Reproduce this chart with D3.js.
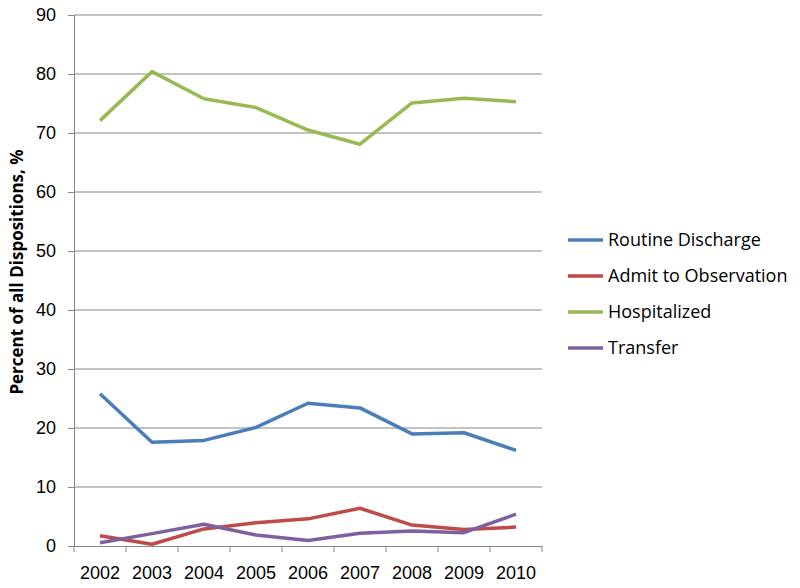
<!DOCTYPE html>
<html>
<head>
<meta charset="utf-8">
<script src="https://cdn.jsdelivr.net/npm/d3@7"></script>
<style>
  body { margin: 0; background: #fff; }
  svg { font-family: "Open Sans", Lato, sans-serif; }
</style>
</head>
<body>
<div id="chart"></div>
<script>
// Data
var years = ["2002", "2003", "2004", "2005", "2006", "2007", "2008", "2009", "2010"];
var routineDischarge = [25.8, 17.6, 17.9, 20.1, 24.2, 23.4, 19.0, 19.2, 16.2];
var admitObservation = [1.75, 0.3, 2.9, 3.95, 4.6, 6.4, 3.55, 2.8, 3.2];
var hospitalized = [72.1, 80.4, 75.8, 74.3, 70.5, 68.1, 75.1, 75.9, 75.3];
var transfer = [0.55, 2.1, 3.7, 1.85, 0.95, 2.15, 2.55, 2.25, 5.4];
var yTicks = [0, 10, 20, 30, 40, 50, 60, 70, 80, 90];

var series = [
  { name: "Routine Discharge", values: routineDischarge, color: "#4a7ebb" },
  { name: "Admit to Observation", values: admitObservation, color: "#be4b48" },
  { name: "Hospitalized", values: hospitalized, color: "#98b954" },
  { name: "Transfer", values: transfer, color: "#7d60a0" }
];

// margins
var margin = { top: 15, right: 258, bottom: 42, left: 74 };
var width = 800 - margin.left - margin.right;
var height = 588 - margin.top - margin.bottom;

var x = d3.scaleBand().domain(years).range([0, width]);
var y = d3.scaleLinear().domain([0, 90]).range([height, 0]);

var svg = d3.select("#chart").append("svg")
  .attr("width", 800)
  .attr("height", 588);
var g = svg.append("g")
  .attr("transform", "translate(" + margin.left + "," + margin.top + ")");

// gridlines + y axis
var yAxis = g.append("g")
  .call(d3.axisLeft(y).tickValues(yTicks).tickSize(6).tickPadding(12));
yAxis.select(".domain").attr("stroke", "#868686");
yAxis.selectAll(".tick line").attr("stroke", "#868686");
yAxis.selectAll("text").attr("font-size", 18).attr("fill", "#000");

g.append("g")
  .selectAll("line")
  .data(yTicks.filter(function(d) { return d > 0; }))
  .join("line")
  .attr("x1", 0).attr("x2", width)
  .attr("y1", function(d) { return y(d); })
  .attr("y2", function(d) { return y(d); })
  .attr("stroke", "#868686")
  .attr("stroke-width", 1);

// x axis
var xAxis = g.append("g")
  .attr("transform", "translate(0," + height + ")")
  .call(d3.axisBottom(x).tickSize(0).tickPadding(20));
xAxis.select(".domain").attr("stroke", "#868686");
xAxis.selectAll("text").attr("font-size", 18).attr("fill", "#000");
xAxis.append("g")
  .selectAll("line")
  .data(d3.range(years.length + 1))
  .join("line")
  .attr("x1", function(i) { return i * x.step(); })
  .attr("x2", function(i) { return i * x.step(); })
  .attr("y1", 0).attr("y2", 6)
  .attr("stroke", "#868686");

// y axis title
svg.append("text")
  .attr("transform", "translate(23," + 272 + ") rotate(-90)")
  .attr("text-anchor", "middle")
  .attr("font-size", 17)
  .attr("font-weight", "bold")
  .text("Percent of all Dispositions, %");

// lines
var line = d3.line()
  .x(function(d, i) { return x(years[i]) + x.bandwidth() / 2; })
  .y(function(d) { return y(d); });

g.selectAll(".series")
  .data(series)
  .join("path")
  .attr("class", "series")
  .attr("fill", "none")
  .attr("stroke", function(d) { return d.color; })
  .attr("stroke-width", 3.5)
  .attr("stroke-linejoin", "round")
  .attr("d", function(d) { return line(d.values); });

// legend
var legend = svg.append("g").attr("transform", "translate(568,240)");
var item = legend.selectAll("g")
  .data(series)
  .join("g")
  .attr("transform", function(d, i) { return "translate(0," + i * 36 + ")"; });
item.append("line")
  .attr("x1", 0).attr("x2", 35)
  .attr("stroke", function(d) { return d.color; })
  .attr("stroke-width", 3.5);
item.append("text")
  .attr("x", 40)
  .attr("dy", "0.35em")
  .attr("font-size", 18)
  .text(function(d) { return d.name; });
</script>
</body>
</html>
